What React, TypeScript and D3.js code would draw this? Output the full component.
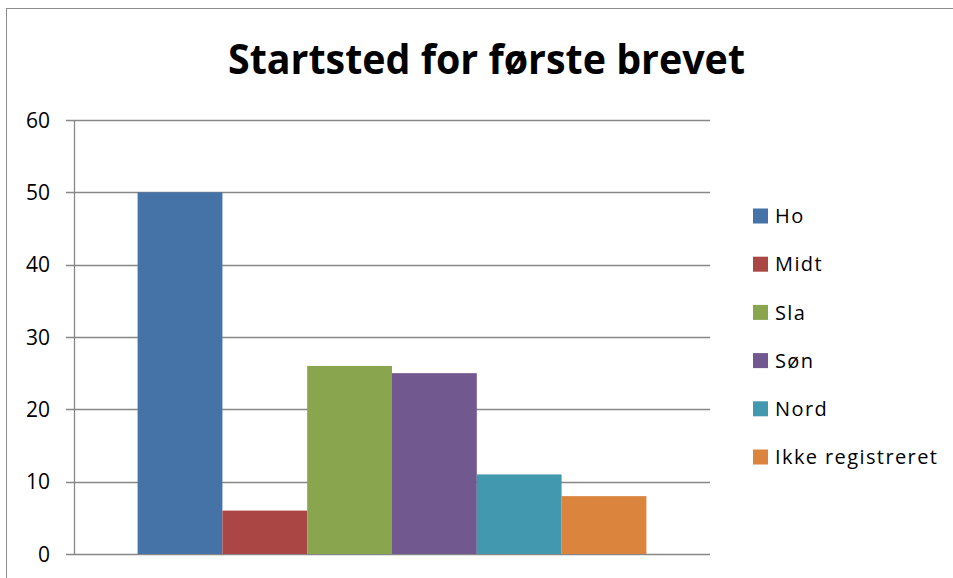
import React from "react";
import * as d3 from "d3";

const categories = ["Ho", "Midt", "Sla", "Søn", "Nord", "Ikke registreret"];
const values = [50, 6, 26, 25, 11, 8];
const colors = ["#4572A7", "#AA4643", "#89A54E", "#71588F", "#4198AF", "#DB843D"];
const yTicks = [0, 10, 20, 30, 40, 50, 60];
const title = "Startsted for første brevet";

const W = 953;
const H = 578;
const plot = { left: 74, right: 710, top: 120, bottom: 554 };
const font = "'Open Sans', 'Liberation Sans', sans-serif";

export default function App() {
  const y = d3.scaleLinear().domain([0, 60]).range([plot.bottom, plot.top]);
  const pw = plot.right - plot.left;
  const groupW = pw / 1.25;
  const x = d3
    .scaleBand<string>()
    .domain(categories)
    .range([plot.left + (pw - groupW) / 2, plot.left + (pw + groupW) / 2])
    .paddingInner(0)
    .paddingOuter(0);

  return (
    <svg
      width={W}
      height={H}
      style={{ position: "absolute", left: 0, top: 0, background: "#fff" }}
      fontFamily={font}
    >
      <rect x={6.5} y={8.5} width={W} height={H} fill="#fff" stroke="#8c8c8c" strokeWidth={1} />
      <text
        x={486.5}
        y={74}
        textAnchor="middle"
        fontSize={41}
        fontWeight="bold"
        textLength={517}
        lengthAdjust="spacingAndGlyphs"
        fill="#000"
      >
        {title}
      </text>
      {yTicks.map((t) => (
        <g key={t}>
          <line
            x1={plot.left - 8}
            x2={plot.right}
            y1={Math.round(y(t)) + 0.5}
            y2={Math.round(y(t)) + 0.5}
            stroke="#878787"
            strokeWidth={1.3}
          />
          <text
            x={50}
            y={y(t)}
            dy="0.36em"
            textAnchor="end"
            fontSize={21}
            fill="#000"
          >
            {t}
          </text>
        </g>
      ))}
      <line
        x1={plot.left + 0.5}
        x2={plot.left + 0.5}
        y1={plot.top}
        y2={plot.bottom}
        stroke="#878787"
        strokeWidth={1.3}
      />
      {categories.map((c, i) => (
        <rect
          key={c}
          x={x(c)}
          y={y(values[i])}
          width={x.bandwidth()}
          height={plot.bottom - y(values[i])}
          fill={colors[i]}
        />
      ))}
      {categories.map((c, i) => (
        <g key={"l" + c} transform={`translate(753, ${216 + i * 48.2})`}>
          <rect x={0} y={-7.5} width={15} height={15} fill={colors[i]} />
          <text x={22} y={0} dy="0.36em" fontSize={20} letterSpacing={1.4} fill="#000">
            {c}
          </text>
        </g>
      ))}
    </svg>
  );
}
